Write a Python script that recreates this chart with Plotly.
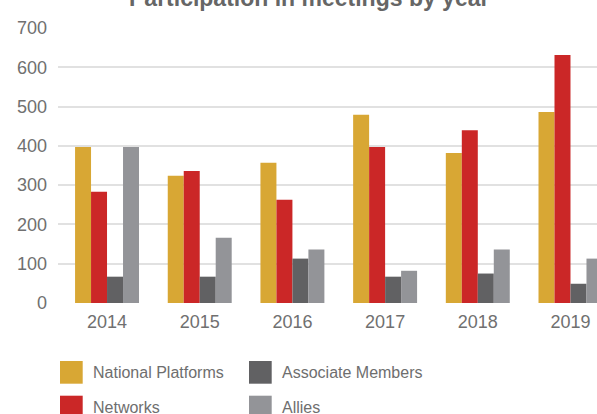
import plotly.graph_objects as go

years = ["2014", "2015", "2016", "2017", "2018", "2019"]
series_names = ["National Platforms", "Networks", "Associate Members", "Allies"]
national_platforms = [397, 324, 357, 479, 382, 486]
networks = [283, 336, 263, 397, 440, 631]
associate_members = [67, 67, 113, 67, 75, 49]
allies = [397, 166, 136, 82, 136, 113]
colors = ["#D8A734", "#CB2727", "#616163", "#939498"]
title_text = "Participation in meetings by year"
y_ticks = [0, 100, 200, 300, 400, 500, 600, 700]

W, H = 597, 414
L, T, B = 58, 28, 111
plot_w = W - L
plot_h = H - T - B


def px(x):
    return (x - L) / plot_w


def py(y):
    return (H - B - y) / plot_h


fig = go.Figure()
for name, vals, col in zip(series_names,
                           [national_platforms, networks, associate_members, allies],
                           colors):
    fig.add_trace(go.Bar(x=years, y=vals, name=name, marker_color=col,
                         marker_line_width=0, showlegend=False))

tick_font = dict(family="Liberation Sans, Arial, sans-serif", size=18, color="#707070")

fig.update_layout(
    width=W, height=H,
    margin=dict(l=L, r=0, t=T, b=B, pad=0),
    paper_bgcolor="white", plot_bgcolor="white",
    barmode="group", bargap=0.31, bargroupgap=0,
    showlegend=False,
    xaxis=dict(type="category", range=[-0.529, 5.286], showgrid=False,
               showline=False, zeroline=False, ticks="", tickfont=tick_font,
               ticklabelstandoff=6),
    yaxis=dict(range=[0, 700], tickvals=y_ticks, showgrid=True,
               gridcolor="#E1E1E1", gridwidth=2, zeroline=False, showline=False,
               ticks="", tickfont=tick_font, ticklabelstandoff=10),
)

# title (partially cropped at the top, like the reference)
fig.add_annotation(text="<b>" + title_text + "</b>", xref="paper", yref="paper",
                   x=px(308.5), y=py(13), xanchor="center", yanchor="bottom",
                   showarrow=False,
                   font=dict(family="Liberation Sans, Arial, sans-serif", size=23,
                             color="#666666"))

# custom legend with large square swatches
leg_font = dict(family="Liberation Sans, Arial, sans-serif", size=16, color="#6E6E6E")
positions = [(60, 361), (60, 395.7), (249, 361), (249, 395.7)]
for name, col, (x0, y0) in zip(series_names, colors, positions):
    fig.add_shape(type="rect", xref="paper", yref="paper",
                  x0=px(x0), x1=px(x0 + 22.7), y0=py(y0), y1=py(y0 + 22.7),
                  fillcolor=col, line_width=0)
    fig.add_annotation(text=name, xref="paper", yref="paper",
                       x=px(x0 + 30.5), y=py(y0 + 12), xanchor="left",
                       yanchor="middle", showarrow=False, font=leg_font)

fig.write_html("out.html", config={"displayModeBar": False},
               post_script="document.body.style.margin='0';document.body.style.overflow='hidden';")
